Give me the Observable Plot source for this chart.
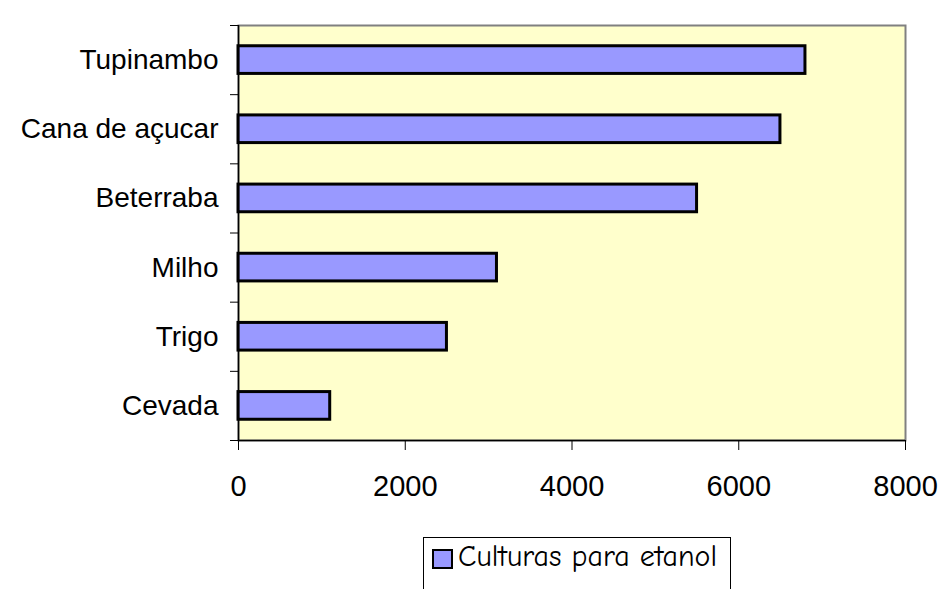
<!DOCTYPE html>
<html>
<head>
<meta charset="utf-8">
<script src="https://cdn.jsdelivr.net/npm/d3@7"></script>
<script src="https://cdn.jsdelivr.net/npm/@observablehq/plot@0.6"></script>
<style>
  html, body { margin: 0; padding: 0; background: #ffffff; width: 940px; height: 589px; overflow: hidden; }
  #chart { position: relative; width: 940px; height: 589px; }
  #legend {
    position: absolute; left: 423px; top: 537px; width: 308px; height: 60px;
    border: 1.5px solid #000; box-sizing: border-box; background: #fff;
    font-family: "Comic Sans MS", "Comic Neue", "DejaVu Sans", sans-serif; font-size: 30px; color: #000;
  }
  #legend .sw { position: absolute; left: 8px; top: 11px; width: 21px; height: 20px; background: #9999ff; border: 2px solid #000; box-sizing: border-box; }
  #legend .lb { position: absolute; left: 34px; top: 1px; white-space: nowrap; line-height: 36px; }
</style>
</head>
<body>
<div id="chart"></div>
<script>
// Data (top to bottom as shown)
const categories = ["Tupinambo", "Cana de açucar", "Beterraba", "Milho", "Trigo", "Cevada"];
const values = [6800, 6500, 5500, 3100, 2500, 1100];
const xTicks = [0, 2000, 4000, 6000, 8000];
const seriesName = "Culturas para etanol";

const n = categories.length;
const rows = categories.map((c, i) => ({ cat: c, value: values[i], pos: n - 1 - i }));
const boundaries = d3.range(n + 1);
const centers = d3.range(n).map(i => i + 0.5);
const labelAt = new Map(rows.map(r => [r.pos + 0.5, r.cat]));

const fontLabel = "'Liberation Sans', Arial, sans-serif";

const plot = Plot.plot({
  width: 940,
  height: 530,
  marginLeft: 238,
  marginRight: 35,
  marginTop: 25,
  marginBottom: 90,
  style: { background: "transparent", fontFamily: fontLabel, fontSize: "28px", color: "#000" },
  x: { domain: [0, 8000] },
  y: { domain: [0, n] },
  marks: [
    Plot.frame({ fill: "#ffffcc", stroke: "#808080", strokeWidth: 2 }),
    Plot.rect(rows, {
      x1: 0, x2: "value",
      y1: d => d.pos + 0.3, y2: d => d.pos + 0.7,
      fill: "#9999ff", stroke: "#000", strokeWidth: 3
    }),
    Plot.ruleX([0], { stroke: "#000", strokeWidth: 1.5 }),
    Plot.ruleY([0], { stroke: "#000", strokeWidth: 1.5 }),
    Plot.axisX({ ticks: xTicks, tickSize: 10, tickPadding: 25, tickFormat: d => String(d), fontSize: 29, stroke: "#000", label: null }),
    Plot.axisY({ ticks: boundaries, tickSize: 8, tickFormat: () => "", stroke: "#000", label: null }),
    Plot.axisY({ ticks: centers, tickSize: 0, tickPadding: 20, tickFormat: d => labelAt.get(d), fontSize: 28, label: null })
  ]
});

const chart = document.getElementById("chart");
chart.appendChild(plot);
const legend = document.createElement("div");
legend.id = "legend";
legend.innerHTML = `<div class="sw"></div><div class="lb"></div>`;
legend.querySelector(".lb").textContent = seriesName;
chart.appendChild(legend);
</script>
</body>
</html>
